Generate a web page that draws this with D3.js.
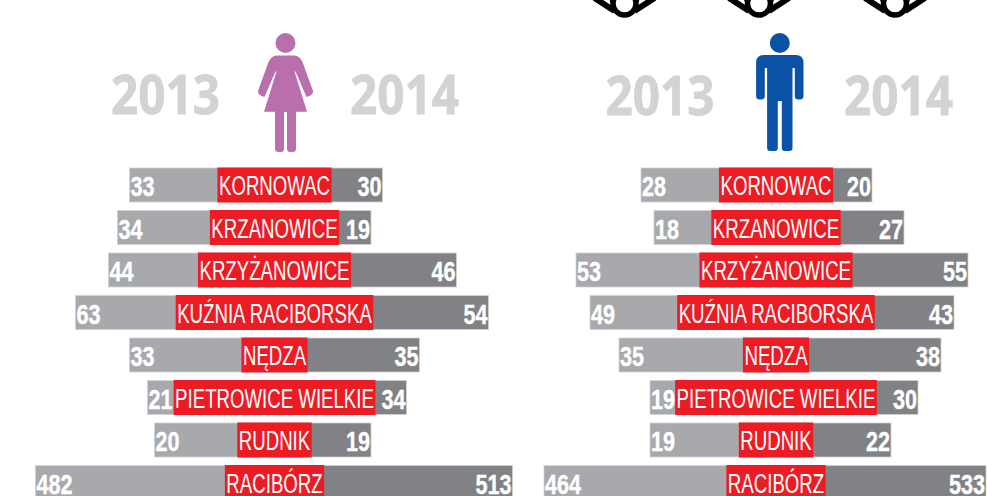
<!DOCTYPE html>
<html>
<head>
<meta charset="utf-8">
<script src="https://cdnjs.cloudflare.com/ajax/libs/d3/7.8.5/d3.min.js"></script>
<style>
  html, body { margin: 0; padding: 0; background: #fff; overflow: hidden; }
  .num { font: bold 27px "Liberation Sans", sans-serif; fill: #fff; stroke: #fff; stroke-width: 0.4px; }
  .name { font: 27px "Liberation Sans", sans-serif; fill: #fff; }
  .year { font: bold 53px "Open Sans", sans-serif; fill: #d1d3d4; stroke: #d1d3d4; stroke-width: 0.8px; }
</style>
</head>
<body>
<div id="chart"></div>
<script>
var communes = ["KORNOWAC", "KRZANOWICE", "KRZYŻANOWICE", "KUŹNIA RACIBORSKA", "NĘDZA", "PIETROWICE WIELKIE", "RUDNIK", "RACIBÓRZ"];
var women2013 = [33, 34, 44, 63, 33, 21, 20, 482];
var women2014 = [30, 19, 46, 54, 35, 34, 19, 513];
var men2013 = [28, 18, 53, 49, 35, 19, 19, 464];
var men2014 = [20, 27, 55, 43, 38, 30, 22, 533];
var years = ["2013", "2014"];

var width = 987, height = 496;

var svg = d3.select("#chart").append("svg")
  .attr("width", width)
  .attr("height", height);

// one band per commune, the last one runs off the bottom of the picture
var y = d3.scaleBand()
  .domain(communes)
  .range([168, 499.5])
  .paddingInner(0.2);

// the bars in the original are not to scale, so each side gets its own broken scale
function brokenScale(values, lengths) {
  return d3.scaleLinear().domain(d3.sort(new Set(values))).range(lengths);
}

// no narrow font here, so squeeze the text to the condensed look of the original
function squeeze(sel, k) {
  sel.each(function() {
    d3.select(this)
      .attr("textLength", this.getComputedTextLength() * k)
      .attr("lengthAdjust", "spacingAndGlyphs");
  });
}

function drawPanel(cx, left, right, leftLengths, rightLengths) {
  var xLeft = brokenScale(left, leftLengths);
  var xRight = brokenScale(right, rightLengths);
  var g = svg.append("g").attr("transform", "translate(" + cx + ",0)");

  g.selectAll()
    .data(left)
    .enter().append("rect")
    .attr("x", d => -xLeft(d))
    .attr("y", (d, i) => y(communes[i]))
    .attr("width", d => xLeft(d))
    .attr("height", y.bandwidth())
    .style("fill", "#a7a9ac")
    .style("stroke", "#d1d3d4")
    .style("stroke-width", 0.8);

  g.selectAll()
    .data(right)
    .enter().append("rect")
    .attr("x", 0)
    .attr("y", (d, i) => y(communes[i]))
    .attr("width", d => xRight(d))
    .attr("height", y.bandwidth())
    .style("fill", "#808285")
    .style("stroke", "#d1d3d4")
    .style("stroke-width", 0.8);

  // labels first so the red box can be sized on the text
  var names = g.selectAll()
    .data(communes)
    .enter().append("g");
  var boxes = names.append("rect").style("fill", "#ed1c24");
  var texts = names.append("text")
    .attr("class", "name")
    .attr("text-anchor", "middle")
    .attr("y", d => y(d) + 27)
    .text(d => d);
  squeeze(texts, 0.69);
  boxes.each(function(d, i) {
    var w = +texts.nodes()[i].getAttribute("textLength") + 3;
    d3.select(this)
      .attr("x", -w / 2)
      .attr("y", y(d) - 0.5)
      .attr("width", w)
      .attr("height", y.bandwidth() + 1);
  });

  var numLeft = g.selectAll()
    .data(left)
    .enter().append("text")
    .attr("class", "num")
    .attr("x", d => -xLeft(d) + 1)
    .attr("y", (d, i) => y(communes[i]) + 28)
    .text(d => d);
  squeeze(numLeft, 0.8);

  var numRight = g.selectAll()
    .data(right)
    .enter().append("text")
    .attr("class", "num")
    .attr("text-anchor", "end")
    .attr("x", d => xRight(d) - 1)
    .attr("y", (d, i) => y(communes[i]) + 28)
    .text(d => d);
  squeeze(numRight, 0.8);
}

// lengths are listed for the values in ascending order
drawPanel(274.5, women2013, women2014,
  [120, 127, 145, 157, 166, 199, 239],
  [96.5, 108, 132, 145, 182, 214, 238]);
drawPanel(776, men2013, men2014,
  [122, 126, 135, 157, 186, 200, 232],
  [96, 115, 128, 142, 165, 178, 192, 210]);

// year headings
function drawYears(x0, x1, base) {
  svg.selectAll()
    .data(years)
    .enter().append("text")
    .attr("class", "year")
    .attr("x", (d, i) => i ? x1 : x0)
    .attr("y", base)
    .attr("textLength", 109)
    .attr("lengthAdjust", "spacingAndGlyphs")
    .text(d => d);
}
drawYears(111, 350, 114);
drawYears(605.5, 844, 115);

// woman pictogram
var woman = svg.append("g").attr("transform", "translate(285.5,0)").style("fill", "#b96fac");
woman.append("circle").attr("cy", 43).attr("r", 10);
woman.append("path").attr("d",
  "M-9,55.5 H9 Q14,55.5 17,62 L27.5,91 Q28,95 21,97 L10,71.5 H9 L21.5,111.7 H10.5 V149 Q10.5,152 7,152 H4.5 Q1.5,152 1.5,149 V112 H-1.5 V149 Q-1.5,152 -4.5,152 H-7 Q-10.5,152 -10.5,149 V111.7 H-21.5 L-9,71.5 H-10 L-21,97 Q-28,95 -27.5,91 L-17,62 Q-14,55.5 -9,55.5 Z");

// man pictogram
var man = svg.append("g").attr("transform", "translate(779.8,0)").style("fill", "#0b51a5");
man.append("circle").attr("cy", 43).attr("r", 10);
man.append("path").attr("d",
  "M-16,55 H16 Q23.7,55 23.7,63 V96 Q23.7,99.5 20,99.5 H18.5 Q15,99.5 15,96 V68 H12.7 V148 Q12.7,151 9.5,151 H5 Q2,151 2,148 V101 H-2 V148 Q-2,151 -5,151 H-9.5 Q-12.7,151 -12.7,148 V68 H-15 V96 Q-15,99.5 -18.5,99.5 H-20 Q-23.7,99.5 -23.7,96 V63 Q-23.7,55 -16,55 Z");

// bottoms of the icons cut off at the top edge
[624.5, 759, 895].forEach(function(cx) {
  var top = svg.append("g").attr("transform", "translate(" + cx + ",0)");
  top.append("path")
    .attr("d", "M-30,-2 L-10,11 M30,-2 L10,11 M-13,-3 L-9,6 M13,-3 L9,6")
    .style("fill", "none").style("stroke", "#000").style("stroke-width", 6);
  top.append("circle").attr("cy", 3.5).attr("r", 11.5)
    .style("fill", "#fff").style("stroke", "#000").style("stroke-width", 5.5);
});
</script>
</body>
</html>
